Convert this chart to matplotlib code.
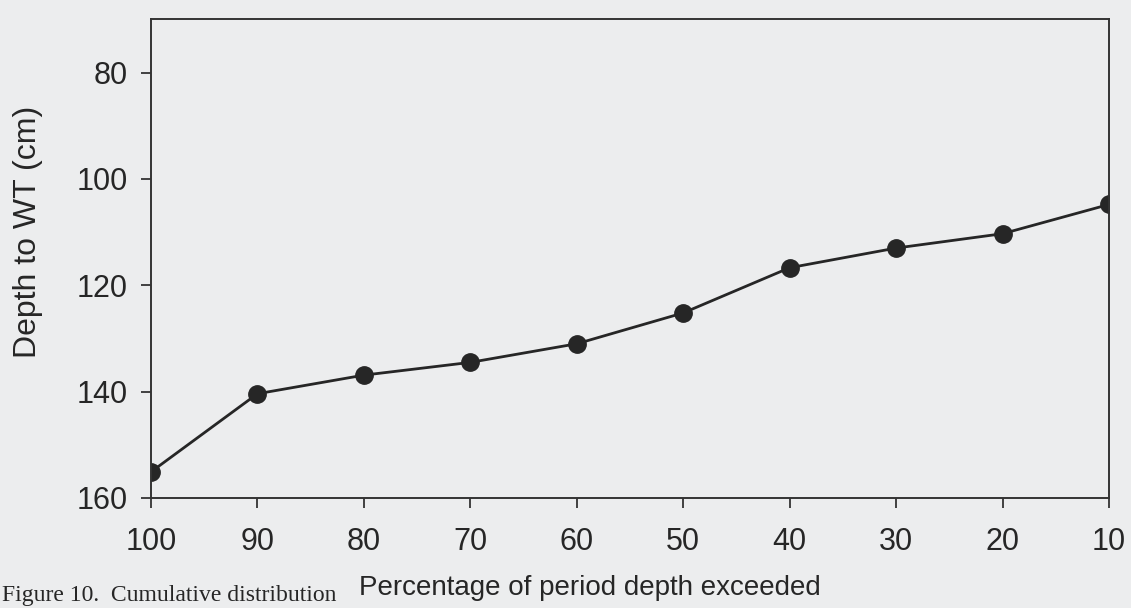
import matplotlib.pyplot as plt

# percentage of the period that the depth was exceeded, and depth to water table
exceedance = [100, 90, 80, 70, 60, 50, 40, 30, 20, 10]
depth_cm = [155.1, 140.4, 136.9, 134.5, 131.0, 125.2, 116.7, 113.0, 110.3, 104.8]

x_ticks = [100, 90, 80, 70, 60, 50, 40, 30, 20, 10]
y_ticks = [80, 100, 120, 140, 160]

paper = "#ecedee"
ink = "#262626"

plt.rcParams["font.family"] = ["Liberation Sans", "DejaVu Sans"]

fig = plt.figure(figsize=(11.31, 6.08), dpi=100, facecolor=paper)
ax = fig.add_axes([0.1335, 0.181, 0.847, 0.787], facecolor=paper)

ax.plot(exceedance, depth_cm, color=ink, linewidth=2.0,
        marker="o", markersize=12.5, markerfacecolor=ink, markeredgecolor=ink)

ax.set_xlim(100, 10)
ax.set_ylim(160, 70)
ax.set_xticks(x_ticks)
ax.set_yticks(y_ticks)

for side in ax.spines.values():
    side.set_color("#333333")
    side.set_linewidth(1.4)

ax.tick_params(axis="both", direction="out", length=7, width=1.3,
               color="#333333", labelsize=22, labelcolor=ink)
ax.tick_params(axis="x", pad=14)
ax.tick_params(axis="y", pad=10)

ax.set_xlabel("Percentage of period depth exceeded", fontsize=20, color=ink)
ax.set_ylabel("Depth to WT (cm)", fontsize=23, color=ink)
ax.xaxis.set_label_coords(0.458, -0.161)
ax.yaxis.set_label_coords(-0.113, 0.556)

# caption line under the chart
fig.text(0.002, 0.011, "Figure 10.  Cumulative distribution",
         family=["Liberation Serif", "DejaVu Serif"], fontsize=17,
         color=ink, va="baseline", ha="left")

fig.savefig("out.png", dpi=100, facecolor=paper)
